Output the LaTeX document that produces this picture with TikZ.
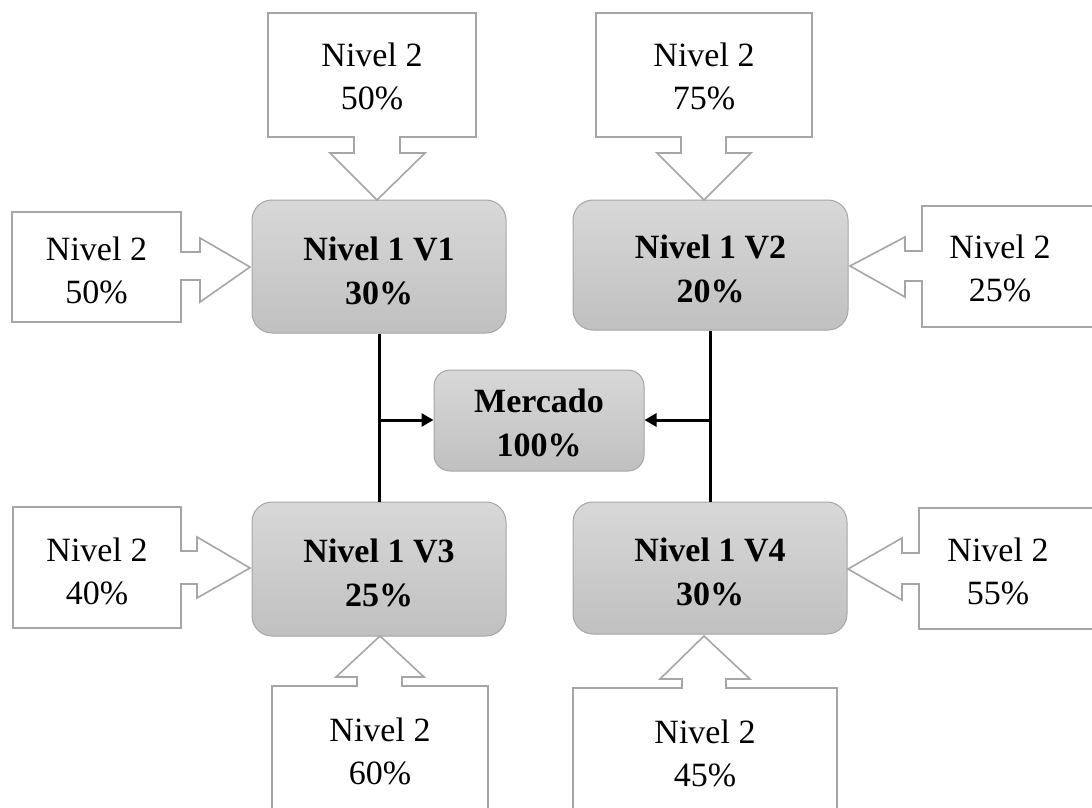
\documentclass[tikz,border=0pt]{standalone}
\usepackage{fontspec}
\setmainfont{Liberation Serif}
\usetikzlibrary{arrows.meta}
\definecolor{edgegray}{RGB}{166,166,166}
\definecolor{topgray}{RGB}{216,216,216}
\definecolor{botgray}{RGB}{192,192,192}
\newcommand{\lowtext}[2]{\raisebox{-#1}[\height][\depth]{\parbox{200pt}{\centering #2}}}
\begin{document}
\begin{tikzpicture}[x=1pt,y=-1pt,
  lvlone/.style={draw=edgegray, line width=1pt, rounded corners=20pt, top color=topgray, bottom color=botgray,
    align=center, inner sep=0pt, font=\fontsize{34}{44}\selectfont\bfseries},
  callout/.style={draw=edgegray, line width=1.6pt, fill=white, line join=miter},
  calltext/.style={align=center, inner sep=0pt, font=\fontsize{34}{43}\selectfont},
  link/.style={line width=3pt, black},
  linkarrow/.style={line width=3pt, black, -{Triangle[length=12pt,width=13pt]}}]
\useasboundingbox (0,0) rectangle (1092,808);
\clip (0,0) rectangle (1092,808);
\fill[white] (0,0) rectangle (1092,808);

% main nodes
\node[lvlone, minimum width=254pt, minimum height=133pt] (v1) at (379,266.5) {\lowtext{4pt}{Nivel 1 V1\\30\%}};
\node[lvlone, minimum width=275pt, minimum height=130pt] (v2) at (710.5,265) {\lowtext{4pt}{Nivel 1 V2\\20\%}};
\node[lvlone, minimum width=254pt, minimum height=134pt] (v3) at (379,569) {\lowtext{4pt}{Nivel 1 V3\\25\%}};
\node[lvlone, minimum width=274pt, minimum height=132pt] (v4) at (710,568) {\lowtext{4pt}{Nivel 1 V4\\30\%}};
\node[lvlone, minimum width=210pt, minimum height=101pt, rounded corners=16pt] (mk) at (539,420.5) {\lowtext{2pt}{Mercado\\100\%}};

% callouts
% top of V1
\draw[callout] (268,13) -- (476,13) -- (476,137) -- (400,137) -- (400,153) -- (425,153) -- (377,200)
  -- (330,153) -- (354,153) -- (354,137) -- (268,137) -- cycle;
\node[calltext] (t1) at (372,76) {Nivel 2\\50\%};
% top of V2
\draw[callout] (596,13) -- (812,13) -- (812,137) -- (726,137) -- (726,153) -- (751,153) -- (704,200)
  -- (657,153) -- (681,153) -- (681,137) -- (596,137) -- cycle;
\node[calltext] (t2) at (704,76) {Nivel 2\\75\%};
% left of V1
\draw[callout] (12,212) -- (181,212) -- (181,252) -- (200,252) -- (200,238) -- (250,267)
  -- (200,302) -- (200,280) -- (181,280) -- (181,322) -- (12,322) -- cycle;
\node[calltext] (l1) at (96.5,270) {Nivel 2\\50\%};
% right of V2
\draw[callout] (1100,206) -- (922,206) -- (922,251) -- (905,251) -- (905,237) -- (850,266)
  -- (905,297) -- (905,281) -- (922,281) -- (922,327) -- (1100,327) -- cycle;
\node[calltext] (r2) at (1000,268) {Nivel 2\\25\%};
% left of V3
\draw[callout] (13,507) -- (181,507) -- (181,551) -- (197,551) -- (197,537) -- (250,568)
  -- (197,598) -- (197,584) -- (181,584) -- (181,628) -- (13,628) -- cycle;
\node[calltext] (l3) at (97,571) {Nivel 2\\40\%};
% right of V4
\draw[callout] (1100,508) -- (919,508) -- (919,553) -- (902,553) -- (902,538) -- (848,569)
  -- (902,600) -- (902,584) -- (919,584) -- (919,629) -- (1100,629) -- cycle;
\node[calltext] (r4) at (998,571) {Nivel 2\\55\%};
% bottom of V3
\draw[callout] (272,830) -- (272,686) -- (357,686) -- (357,677) -- (336,677) -- (380,636)
  -- (424,677) -- (402,677) -- (402,686) -- (488,686) -- (488,830) -- cycle;
\node[calltext] (b3) at (380,751) {Nivel 2\\60\%};
% bottom of V4
\draw[callout] (573,830) -- (573,688) -- (682,688) -- (682,679) -- (660,679) -- (704,636)
  -- (750,679) -- (726,679) -- (726,688) -- (837,688) -- (837,830) -- cycle;
\node[calltext] (b4) at (705,753) {Nivel 2\\45\%};

% connectors
\coordinate (j1) at (379,420);
\coordinate (j2) at (710,420);
\draw[link] (v1.south) -- (v3.north);
\draw[link] (v2.south -| j2) -- (v4.north -| j2);
\draw[linkarrow] (j1) -- (mk.west |- j1);
\draw[linkarrow] (j2) -- (mk.east |- j2);
\end{tikzpicture}
\end{document}
